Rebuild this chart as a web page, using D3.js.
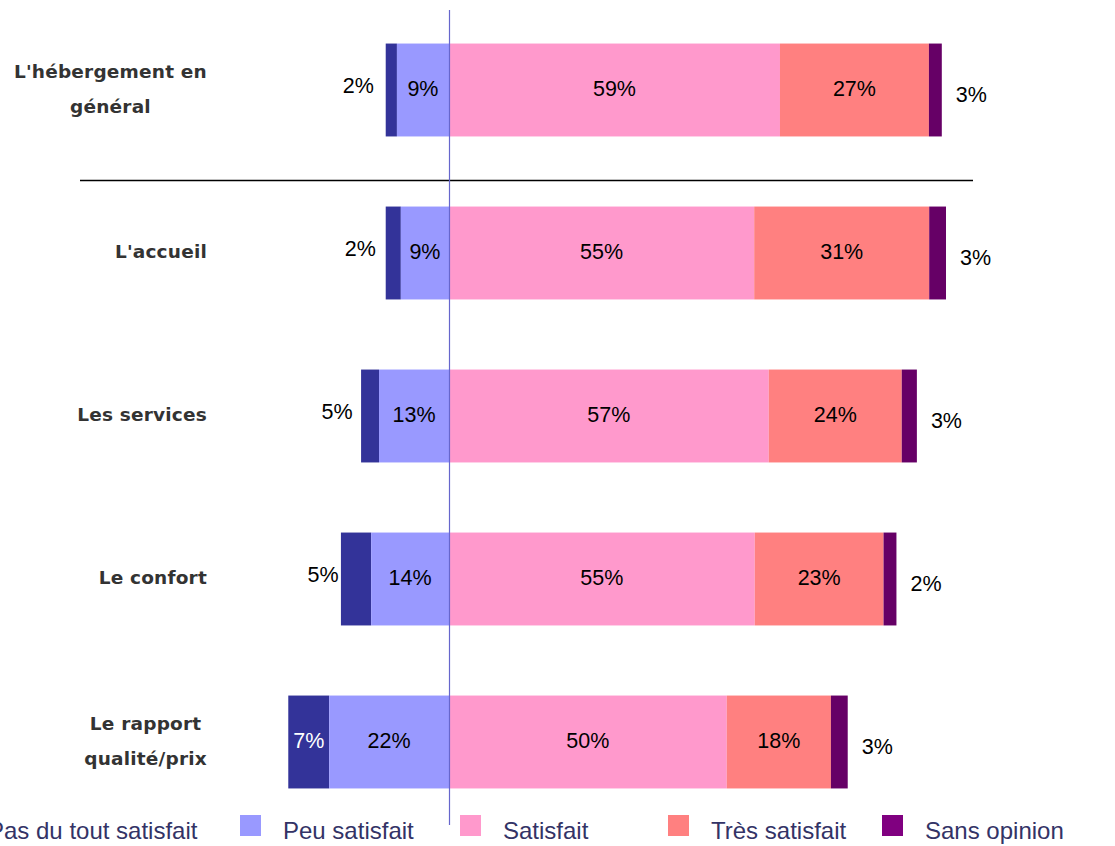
<!DOCTYPE html>
<html>
<head>
<meta charset="utf-8">
<script src="https://cdn.jsdelivr.net/npm/d3@7"></script>
<style>
  html, body { margin: 0; padding: 0; background: #fff; }
  svg { display: block; }
</style>
</head>
<body>
<svg id="chart" width="1115" height="846"></svg>
<script>
// ---- Data ----
const categories = [
  ["L'hébergement en", "général"],
  ["L'accueil"],
  ["Les services"],
  ["Le confort"],
  ["Le rapport", "qualité/prix"]
];
const seriesNames = ["Pas du tout satisfait", "Peu satisfait", "Satisfait", "Très satisfait", "Sans opinion"];
// bar lengths (percent)
const pasDuTout   = [2.0, 2.7, 3.2, 5.4, 7.3];
const peuSatisf   = [9.3, 8.6, 12.5, 13.9, 21.4];
const satisfait   = [59.1, 54.5, 57.1, 54.6, 49.6];
const tresSatisf  = [26.6, 31.25, 23.75, 23.0, 18.6];
const sansOpinion = [2.3, 3.0, 2.7, 2.3, 3.0];
// data labels as displayed
const pasLabels  = ["2%", "2%", "5%", "5%", "7%"];
const peuLabels  = ["9%", "9%", "13%", "14%", "22%"];
const satLabels  = ["59%", "55%", "57%", "55%", "50%"];
const tresLabels = ["27%", "31%", "24%", "23%", "18%"];
const sansLabels = ["3%", "3%", "3%", "2%", "3%"];

const barColors    = ["#333399", "#9999FF", "#FF99CC", "#FF8080", "#660066"];
const legendColors = ["#333399", "#9999FF", "#FF99CC", "#FF8080", "#800080"];

// ---- Chart ----
const svg = d3.select("#chart");
const x = d3.scaleLinear().domain([-40, 100]).range([449 - 224, 449 + 560]);
const catKeys = categories.map((c, i) => i);
const y = d3.scaleBand().domain(catKeys).range([8.5, 823.5]).paddingInner(0.43).paddingOuter(0.215);

const rows = catKeys.map(i => {
  const segs = [];
  segs.push({key: 0, x0: -(pasDuTout[i] + peuSatisf[i]), x1: -peuSatisf[i], v: pasDuTout[i], label: pasLabels[i]});
  segs.push({key: 1, x0: -peuSatisf[i], x1: 0, v: peuSatisf[i], label: peuLabels[i]});
  segs.push({key: 2, x0: 0, x1: satisfait[i], v: satisfait[i], label: satLabels[i]});
  segs.push({key: 3, x0: satisfait[i], x1: satisfait[i] + tresSatisf[i], v: tresSatisf[i], label: tresLabels[i]});
  segs.push({key: 4, x0: satisfait[i] + tresSatisf[i], x1: satisfait[i] + tresSatisf[i] + sansOpinion[i], v: sansOpinion[i], label: sansLabels[i]});
  return {i, segs};
});

const gRows = svg.append("g").selectAll("g").data(rows).join("g");
gRows.selectAll("rect").data(d => d.segs.map(s => Object.assign({row: d.i}, s))).join("rect")
  .attr("x", d => x(d.x0))
  .attr("width", d => x(d.x1) - x(d.x0))
  .attr("y", d => y(d.row))
  .attr("height", y.bandwidth())
  .attr("fill", d => barColors[d.key]);

// data labels
gRows.selectAll("text").data(d => d.segs.map(s => Object.assign({row: d.i}, s))).join("text")
  .attr("font-family", "Liberation Sans, Arial, sans-serif")
  .attr("font-size", 21.5)
  .attr("dy", "0.35em")
  .each(function(d) {
    const t = d3.select(this);
    const cy = y(d.row) + y.bandwidth() / 2;
    const cx = (x(d.x0) + x(d.x1)) / 2;
    if (d.key === 4) {
      t.attr("x", x(d.x1) + 14).attr("y", cy + 4).attr("text-anchor", "start").attr("fill", "#000");
    } else if (d.key === 0 && d.v < 6) {
      t.attr("x", cx - 33).attr("y", cy - 5).attr("text-anchor", "middle").attr("fill", "#000");
    } else {
      t.attr("x", cx).attr("y", cy - 2).attr("text-anchor", "middle")
       .attr("fill", d.key === 0 ? "#fff" : "#000");
    }
  })
  .text(d => d.label);

// category labels (block right-aligned, lines centred)
const catG = svg.append("g");
categories.forEach((lines, i) => {
  const g = catG.append("g");
  const lh = 35;
  const cy = y(i) + y.bandwidth() / 2 - 1;
  const texts = lines.map((ln, k) => g.append("text")
    .attr("font-family", "DejaVu Sans, sans-serif")
    .attr("font-weight", "bold")
    .attr("font-size", 18.5)
    .attr("letter-spacing", "0.2px")
    .attr("fill", "#333333")
    .attr("text-anchor", "middle")
    .attr("dy", "0.35em")
    .attr("y", cy + (k - (lines.length - 1) / 2) * lh)
    .text(ln));
  const maxW = d3.max(texts, t => t.node().getComputedTextLength());
  const right = 207;
  texts.forEach(t => t.attr("x", right - maxW / 2));
});

// separator line between first row and the rest
svg.append("line")
  .attr("x1", 80).attr("x2", 973)
  .attr("y1", 180.5).attr("y2", 180.5)
  .attr("stroke", "#000").attr("stroke-width", 1.5);

// zero line
svg.append("line")
  .attr("x1", x(0) + 0.5).attr("x2", x(0) + 0.5)
  .attr("y1", 10).attr("y2", 825)
  .attr("stroke", "#6666CC").attr("stroke-width", 1.2);

// legend (the first entry runs off the left edge, as in the original)
const legendX = [-55, 240, 460, 668, 882];
const leg = svg.append("g");
seriesNames.forEach((name, k) => {
  leg.append("rect").attr("x", legendX[k]).attr("y", 815).attr("width", 21).attr("height", 21)
    .attr("fill", legendColors[k]);
  leg.append("text").attr("x", legendX[k] + 43).attr("y", 839)
    .attr("font-family", "Liberation Sans, Arial, sans-serif")
    .attr("font-size", 24)
    .attr("fill", "#333366")
    .text(name);
});
</script>
</body>
</html>
